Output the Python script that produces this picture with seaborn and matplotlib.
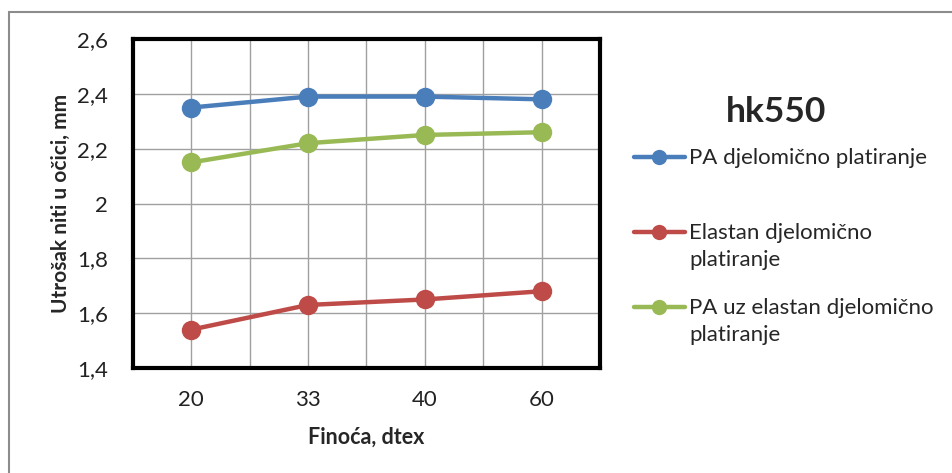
import matplotlib
matplotlib.use("Agg")
import matplotlib.pyplot as plt
import seaborn as sns
import pandas as pd
from matplotlib.lines import Line2D
from matplotlib.patches import Rectangle
from matplotlib.legend_handler import HandlerLine2D

# data
finoca = ["20", "33", "40", "60"]
pa_djelomicno = [2.35, 2.39, 2.39, 2.38]
elastan_djelomicno = [1.54, 1.63, 1.65, 1.68]
pa_uz_elastan = [2.15, 2.22, 2.25, 2.26]

series_names = ["PA djelomično platiranje",
                "Elastan djelomično\nplatiranje",
                "PA uz elastan djelomično\nplatiranje"]
colors = ["#4a7ebb", "#be4b48", "#98b954"]

df = pd.DataFrame({
    "finoca": finoca * 3,
    "value": pa_djelomicno + elastan_djelomicno + pa_uz_elastan,
    "serija": [s for s in series_names for _ in finoca],
})


class FirstLineHandler(HandlerLine2D):
    # put the legend line next to the first text line, like Excel does
    def __init__(self, shift, **kw):
        super().__init__(**kw)
        self.shift = shift

    def create_artists(self, legend, orig_handle, xdescent, ydescent,
                       width, height, fontsize, trans):
        return super().create_artists(legend, orig_handle, xdescent,
                                      ydescent - 2 * self.shift, width, height,
                                      fontsize, trans)


sns.set_style("white")
plt.rcParams["font.family"] = ["Lato", "DejaVu Sans"]

fig = plt.figure(figsize=(9.53, 4.73), dpi=100)
ax = fig.add_axes([133 / 953, 1 - 368 / 473, 467 / 953, 329 / 473])

sns.lineplot(data=df, x="finoca", y="value", hue="serija", palette=colors,
             sort=False, marker="o", markersize=14, markeredgewidth=0,
             linewidth=3.2, ax=ax, legend=False, zorder=3)

ax.set_xlim(-0.5, 3.5)
ax.set_ylim(1.4, 2.6)
ax.set_xticks(range(len(finoca)))
ax.set_xticklabels(finoca)
ax.set_xticks([i - 0.5 for i in range(len(finoca) + 1)], minor=True)
ax.set_yticks([1.4, 1.6, 1.8, 2.0, 2.2, 2.4, 2.6])
ax.set_yticklabels(["1,4", "1,6", "1,8", "2", "2,2", "2,4", "2,6"])
ax.grid(True, which="both", color="#a0a0a0", linewidth=1)
ax.set_axisbelow(True)
ax.tick_params(axis="both", which="both", length=0, labelsize=16, colors="#222222")
ax.tick_params(axis="x", pad=16)
ax.tick_params(axis="y", pad=18)
for s in ax.spines.values():
    s.set_visible(True)
    s.set_color("black")
    s.set_linewidth(3)

ax.set_xlabel("Finoća, dtex", fontsize=15.5, fontweight="bold", labelpad=12)
ax.set_ylabel("Utrošak niti u očici, mm", fontsize=15, fontweight="bold", labelpad=4)

# every legend slot is two lines tall, text starts on the first line
legend_labels = [series_names[0] + "\n ", series_names[1], series_names[2]]
handles = [Line2D([0], [0], color=c, marker="o", markersize=11, linewidth=3.2,
                  markeredgewidth=0) for c in colors]
leg = fig.legend(handles, legend_labels, loc="upper left",
                 bbox_to_anchor=(625 / 953, 1 - 139 / 473), frameon=False,
                 fontsize=16, handlelength=2.3, handletextpad=0.2,
                 labelspacing=1.25, borderaxespad=0,
                 handler_map={Line2D: FirstLineHandler(shift=10.8)})
for t in leg.get_texts():
    t.set_linespacing(1.45)

fig.text(776 / 953, 1 - 112 / 473, "hk550", fontsize=25.5, fontweight="bold",
         ha="center", va="center")

# outer chart frame
fig.patches.append(Rectangle((9 / 953, -0.1), 1.1, 1 - 12 / 473 + 0.1,
                             transform=fig.transFigure, fill=False,
                             edgecolor="#8c8c8c", linewidth=1.5))

fig.savefig("out.png", dpi=100)
